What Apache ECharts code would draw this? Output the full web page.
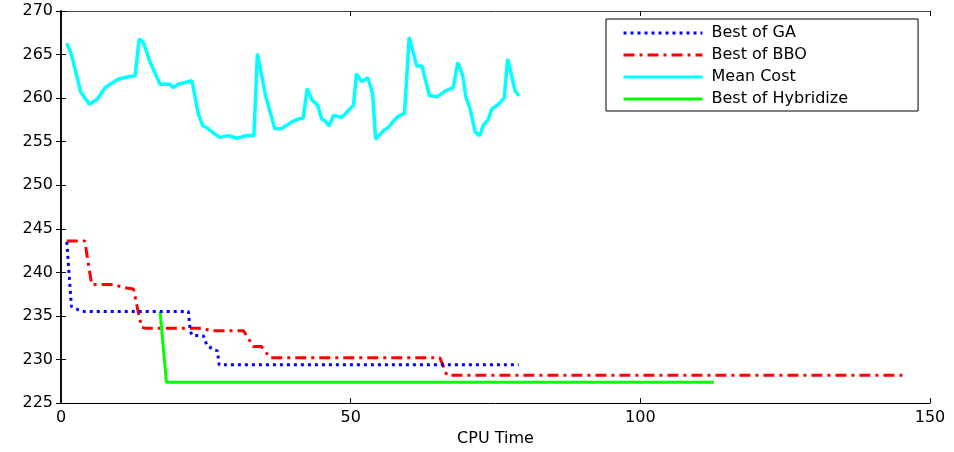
<!DOCTYPE html>
<html>
<head>
<meta charset="utf-8">
<script src="https://cdn.jsdelivr.net/npm/echarts@6/dist/echarts.min.js"></script>
<style>
  html, body { margin: 0; padding: 0; background: #fff; }
  #chart { width: 954px; height: 452px; }
</style>
</head>
<body>
<div id="chart"></div>
<script>
// values
var xTicks = [0, 50, 100, 150];
var yTicks = [225, 230, 235, 240, 245, 250, 255, 260, 265, 270];

var gaTime = [1.0, 1.8, 3.0, 4.1, 22.0, 22.3, 22.6, 24.6, 25.2, 26.5, 27.0, 27.3, 79.0];
var gaCost = [243.5, 236.1, 235.7, 235.5, 235.5, 233.3, 232.8, 232.7, 231.6, 231.1, 231.0, 229.4, 229.4];

var bboTime = [1.0, 4.1, 5.3, 9.3, 10.5, 12.5, 13.9, 14.5, 24.3, 26.0, 31.5, 33.2, 34.6, 36.1, 65.4, 66.6, 145.4];
var bboCost = [243.6, 243.6, 238.6, 238.6, 238.3, 238.1, 233.7, 233.6, 233.6, 233.3, 233.3, 231.5, 231.5, 230.2, 230.2, 228.2, 228.2];

var meanTime = [1.0, 1.8, 3.4, 4.9, 6.3, 7.6, 9.9, 12.8, 13.5, 14.2, 15.4, 17.1, 18.8, 19.4, 20.2, 22.6,
  23.7, 24.5, 25.2, 26.3, 27.4, 28.9, 30.4, 32.0, 33.3, 33.9, 35.3, 36.9, 38.1, 39.9, 41.0, 41.8,
  42.5, 43.3, 44.3, 45.0, 45.6, 46.3, 47.0, 48.5, 50.5, 51.0, 51.9, 53.0, 53.8, 54.3, 55.9, 56.5,
  57.4, 58.2, 59.3, 60.1, 61.4, 62.3, 63.6, 64.9, 66.3, 67.7, 68.5, 69.3, 69.9, 70.6, 71.5, 72.3,
  72.9, 73.8, 74.3, 75.5, 76.5, 77.1, 77.8, 78.4, 79.1];
var meanCost = [266.3, 265.0, 260.7, 259.3, 259.9, 261.2, 262.2, 262.6, 266.8, 266.4, 264.1, 261.6, 261.6, 261.2, 261.6, 262.0,
  258.2, 256.8, 256.6, 256.0, 255.5, 255.7, 255.4, 255.7, 255.7, 265.1, 260.3, 256.5, 256.5, 257.3, 257.6, 257.7,
  261.1, 259.8, 259.2, 257.6, 257.4, 256.8, 258.0, 257.8, 259.2, 262.8, 261.9, 262.35, 260.4, 255.3, 256.4, 256.6,
  257.4, 257.9, 258.3, 267.0, 263.7, 263.7, 260.3, 260.15, 260.8, 261.2, 264.1, 262.7, 260.1, 258.8, 256.1, 255.7,
  256.9, 257.6, 258.7, 259.3, 260.0, 264.5, 262.5, 260.8, 260.25];

var hybTime = [17.1, 18.2, 112.7];
var hybCost = [235.5, 227.4, 227.4];

function pairs(xs, ys) {
  return xs.map(function (x, i) { return [x, ys[i]]; });
}

var font = 'DejaVu Sans';
var chart = echarts.init(document.getElementById('chart'), null, { renderer: 'canvas' });

var axisX = {
  type: 'value',
  min: xTicks[0],
  max: xTicks[xTicks.length - 1],
  interval: 50,
  splitLine: { show: false },
  axisLine: { lineStyle: { color: '#000', width: 1 } },
  axisTick: { inside: true, length: 5, lineStyle: { color: '#000' } }
};
var axisY = {
  type: 'value',
  min: yTicks[0],
  max: yTicks[yTicks.length - 1],
  interval: 5,
  splitLine: { show: false },
  axisLine: { show: true, lineStyle: { color: '#000', width: 1.5 } },
  axisTick: { inside: true, length: 5, lineStyle: { color: '#000' } }
};

chart.setOption({
  animation: false,
  backgroundColor: '#fff',
  grid: { left: 61, right: 24, top: 11, bottom: 45 },
  legend: {
    orient: 'vertical',
    left: 606,
    top: 19,
    padding: [6, 70, 4, 16],
    itemWidth: 79,
    itemHeight: 14,
    itemGap: 6,
    borderColor: '#000',
    borderWidth: 1,
    backgroundColor: '#fff',
    itemStyle: { opacity: 0 },
    lineStyle: { width: 3 },
    textStyle: { fontFamily: font, fontSize: 16, color: '#000', padding: [0, 0, 0, 4] },
    data: ['Best of GA', 'Best of BBO', 'Mean Cost', 'Best of Hybridize']
  },
  xAxis: [
    Object.assign({}, axisX, {
      position: 'bottom',
      name: 'CPU Time',
      nameLocation: 'middle',
      nameGap: 24,
      nameTextStyle: { fontFamily: font, fontSize: 16, color: '#000' },
      axisLabel: { margin: 7, fontFamily: font, fontSize: 16, color: '#000' }
    }),
    Object.assign({}, axisX, {
      position: 'top',
      axisLabel: { show: false },
      axisLine: { lineStyle: { color: '#444', width: 1 } }
    })
  ],
  yAxis: [
    Object.assign({}, axisY, {
      position: 'left',
      axisLabel: { margin: 8, fontFamily: font, fontSize: 16, color: '#000' }
    }),
    Object.assign({}, axisY, {
      position: 'right',
      axisLabel: { show: false }
    })
  ],
  series: [
    {
      name: 'Best of GA',
      type: 'line',
      symbol: 'none',
      data: pairs(gaTime, gaCost),
      lineStyle: { color: '#0000ff', width: 3, type: [3, 4] },
      itemStyle: { color: '#0000ff' },
      z: 3
    },
    {
      name: 'Best of BBO',
      type: 'line',
      symbol: 'none',
      data: pairs(bboTime, bboCost),
      lineStyle: { color: '#ff0000', width: 3, type: [11, 5, 3, 5] },
      itemStyle: { color: '#ff0000' },
      z: 2
    },
    {
      name: 'Mean Cost',
      type: 'line',
      symbol: 'none',
      data: pairs(meanTime, meanCost),
      lineStyle: { color: '#00ffff', width: 3.5 },
      itemStyle: { color: '#00ffff' },
      z: 2
    },
    {
      name: 'Best of Hybridize',
      type: 'line',
      symbol: 'none',
      data: pairs(hybTime, hybCost),
      lineStyle: { color: '#00ff00', width: 3 },
      itemStyle: { color: '#00ff00' },
      z: 2
    }
  ]
});
</script>
</body>
</html>
